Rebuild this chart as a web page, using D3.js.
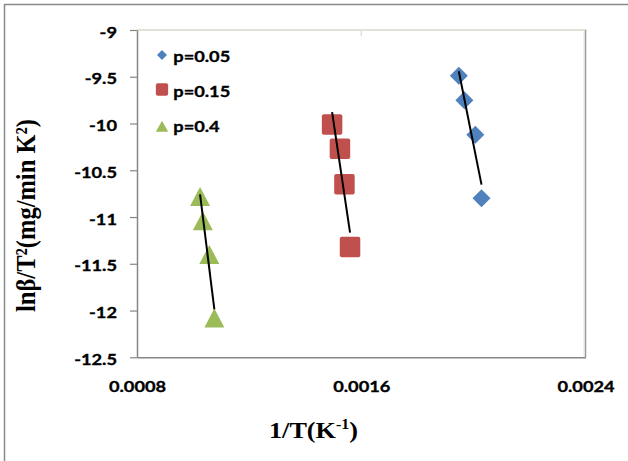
<!DOCTYPE html>
<html>
<head>
<meta charset="utf-8">
<script src="https://cdn.jsdelivr.net/npm/d3@7"></script>
<style>
  html, body { margin: 0; padding: 0; background: #ffffff; }
  svg { display: block; }
</style>
</head>
<body>
<svg id="chart" width="628" height="461"></svg>
<script>
// Series: 1/T (K^-1) against ln(beta/T^2) at three conversion levels
const seriesNames = ["p=0.05", "p=0.15", "p=0.4"];
const invT_p005 = [0.001948, 0.001968, 0.002007, 0.002029];
const lnBT_p005 = [-9.49, -9.75, -10.12, -10.80];
const invT_p015 = [0.001496, 0.001524, 0.001540, 0.001560];
const lnBT_p015 = [-10.01, -10.27, -10.65, -11.32];
const invT_p04 = [0.001025, 0.001035, 0.001058, 0.001076];
const lnBT_p04 = [-10.78, -11.04, -11.40, -12.08];

const xTicks = [0.0008, 0.0016, 0.0024];
const xTickLabels = ["0.0008", "0.0016", "0.0024"];
const yTicks = [-9, -9.5, -10, -10.5, -11, -11.5, -12, -12.5];
const yTickLabels = ["-9", "-9.5", "-10", "-10.5", "-11", "-11.5", "-12", "-12.5"];

const seriesColors = ["#4f81bd", "#c0504d", "#9bbb59"];
const seriesShapes = ["diamond", "square", "triangle"];

const series = [
  { name: seriesNames[0], x: invT_p005, y: lnBT_p005 },
  { name: seriesNames[1], x: invT_p015, y: lnBT_p015 },
  { name: seriesNames[2], x: invT_p04, y: lnBT_p04 }
].map((s, i) => ({ ...s, color: seriesColors[i], shape: seriesShapes[i],
  points: s.x.map((xv, j) => ({ x: xv, y: s.y[j] })) }));

const SX = 1.14; // horizontal text stretch
const sansFont = "Lato, 'Open Sans', sans-serif";
const serifFont = "'Liberation Serif', 'Times New Roman', serif";
const svg = d3.select("#chart");

const plot = { left: 137, right: 585.5, top: 30, bottom: 357.3 };
const x = d3.scaleLinear().domain([0.0008, 0.0024]).range([plot.left, plot.right]);
const y = d3.scaleLinear().domain([-12.5, -9]).range([plot.bottom, plot.top]);

// bold sans labels, thickened slightly
function sansLabel(sel) {
  sel.attr("fill", "#000")
    .attr("stroke", "#000").attr("stroke-width", 0.35)
    .style("font-family", sansFont)
    .style("font-weight", "bold")
    .style("font-size", "16px");
}

// outer chart frame (top and left edges)
svg.append("path")
  .attr("d", "M4.5,461 L4.5,4.5 L628,4.5")
  .attr("fill", "none").attr("stroke", "#8a8a8a").attr("stroke-width", 1.5);

// plot area frame
svg.append("line").attr("x1", plot.left).attr("x2", plot.right + 1).attr("y1", plot.top).attr("y2", plot.top)
  .attr("stroke", "#e3e1d6").attr("stroke-width", 2);
svg.append("line").attr("x1", plot.right).attr("x2", plot.right).attr("y1", plot.top).attr("y2", plot.bottom)
  .attr("stroke", "#9a9a9a").attr("stroke-width", 1.5);
svg.append("line").attr("x1", plot.right - 1.5).attr("x2", plot.right - 1.5).attr("y1", plot.top).attr("y2", plot.bottom)
  .attr("stroke", "#e0e0e0").attr("stroke-width", 1);
svg.append("line").attr("x1", x(0.0016)).attr("x2", x(0.0016)).attr("y1", plot.top).attr("y2", plot.top + 6)
  .attr("stroke", "#e3e1d6").attr("stroke-width", 1.5);

// y axis
const yAxis = svg.append("g")
  .attr("transform", `translate(${plot.left},0)`)
  .call(d3.axisLeft(y).tickValues(yTicks).tickSize(7).tickSizeOuter(0)
    .tickFormat((d, i) => yTickLabels[i]));
yAxis.select(".domain").attr("stroke", "#868686").attr("stroke-width", 1.5);
yAxis.selectAll(".tick line").attr("stroke", "#868686").attr("stroke-width", 1.2);
yAxis.selectAll(".tick text")
  .attr("x", null).attr("dy", null)
  .attr("transform", `translate(-20,7) scale(${SX},1)`)
  .attr("text-anchor", "end")
  .call(sansLabel);

// x axis
const xAxis = svg.append("g")
  .attr("transform", `translate(0,${plot.bottom})`)
  .call(d3.axisBottom(x).tickValues(xTicks).tickSize(0).tickSizeOuter(0)
    .tickFormat((d, i) => xTickLabels[i]));
xAxis.select(".domain").attr("stroke", "#868686").attr("stroke-width", 1.5);
xAxis.selectAll(".tick text")
  .attr("y", null).attr("dy", null)
  .attr("transform", `translate(0,35) scale(${SX},1)`)
  .attr("text-anchor", "middle")
  .call(sansLabel);

// marker shapes, centred on their bounding box
function markerPath(shape, w, h) {
  const hw = w / 2, hh = h / 2;
  if (shape === "diamond") return `M0,${-hh} L${hw},0 L0,${hh} L${-hw},0 Z`;
  if (shape === "triangle") return `M0,${-hh} L${hw},${hh} L${-hw},${hh} Z`;
  const r = 2;
  return `M${-hw + r},${-hh} H${hw - r} Q${hw},${-hh} ${hw},${-hh + r} V${hh - r} Q${hw},${hh} ${hw - r},${hh}` +
         ` H${-hw + r} Q${-hw},${hh} ${-hw},${hh - r} V${-hh + r} Q${-hw},${-hh} ${-hw + r},${-hh} Z`;
}
const markerSize = { diamond: [18, 18], square: [20.5, 20.5], triangle: [20, 19] };
const legendSize = { diamond: [10, 10], square: [12.3, 12.3], triangle: [12.3, 11] };

// data markers
series.forEach(s => {
  const [w, h] = markerSize[s.shape];
  svg.append("g").selectAll("path")
    .data(s.points)
    .join("path")
    .attr("d", markerPath(s.shape, w, h))
    .attr("transform", d => `translate(${x(d.x)},${y(d.y)})`)
    .attr("fill", s.color);
});

// linear trendlines (least squares) over each series' x range
series.forEach(s => {
  const mx = d3.mean(s.points, d => d.x), my = d3.mean(s.points, d => d.y);
  const sxy = d3.sum(s.points, d => (d.x - mx) * (d.y - my));
  const sxx = d3.sum(s.points, d => (d.x - mx) ** 2);
  const slope = sxy / sxx, icpt = my - slope * mx;
  const [x0, x1] = d3.extent(s.points, d => d.x);
  svg.append("line")
    .attr("x1", x(x0)).attr("y1", y(icpt + slope * x0))
    .attr("x2", x(x1)).attr("y2", y(icpt + slope * x1))
    .attr("stroke", "#000").attr("stroke-width", 2);
});

// legend
const legend = svg.append("g");
series.forEach((s, i) => {
  const cy = [55, 89.5, 126.2][i];
  const [w, h] = legendSize[s.shape];
  legend.append("path")
    .attr("d", markerPath(s.shape, w, h))
    .attr("transform", `translate(162,${cy})`)
    .attr("fill", s.color);
  legend.append("text")
    .attr("transform", `translate(173.3,${[61.7, 96.7, 131.7][i]}) scale(${SX},1)`)
    .call(sansLabel)
    .text(s.name);
});

// axis titles
const xTitle = svg.append("text")
  .attr("transform", `translate(313.5,438.3) scale(${SX},1)`)
  .attr("text-anchor", "middle")
  .style("font-family", serifFont)
  .style("font-weight", "bold")
  .style("font-size", "23px")
  .attr("fill", "#000");
xTitle.append("tspan").text("1/T(K");
xTitle.append("tspan").attr("dy", -9).style("font-size", "14px").text("-1");
xTitle.append("tspan").attr("dy", 9).text(")");

svg.append("text")
  .attr("transform", `translate(35,215.5) scale(${SX},1) rotate(-90)`)
  .attr("text-anchor", "middle")
  .style("font-family", serifFont)
  .style("font-weight", "bold")
  .style("font-size", "24.5px")
  .attr("fill", "#000")
  .text("lnβ/T²(mg/min K²)");
</script>
</body>
</html>
